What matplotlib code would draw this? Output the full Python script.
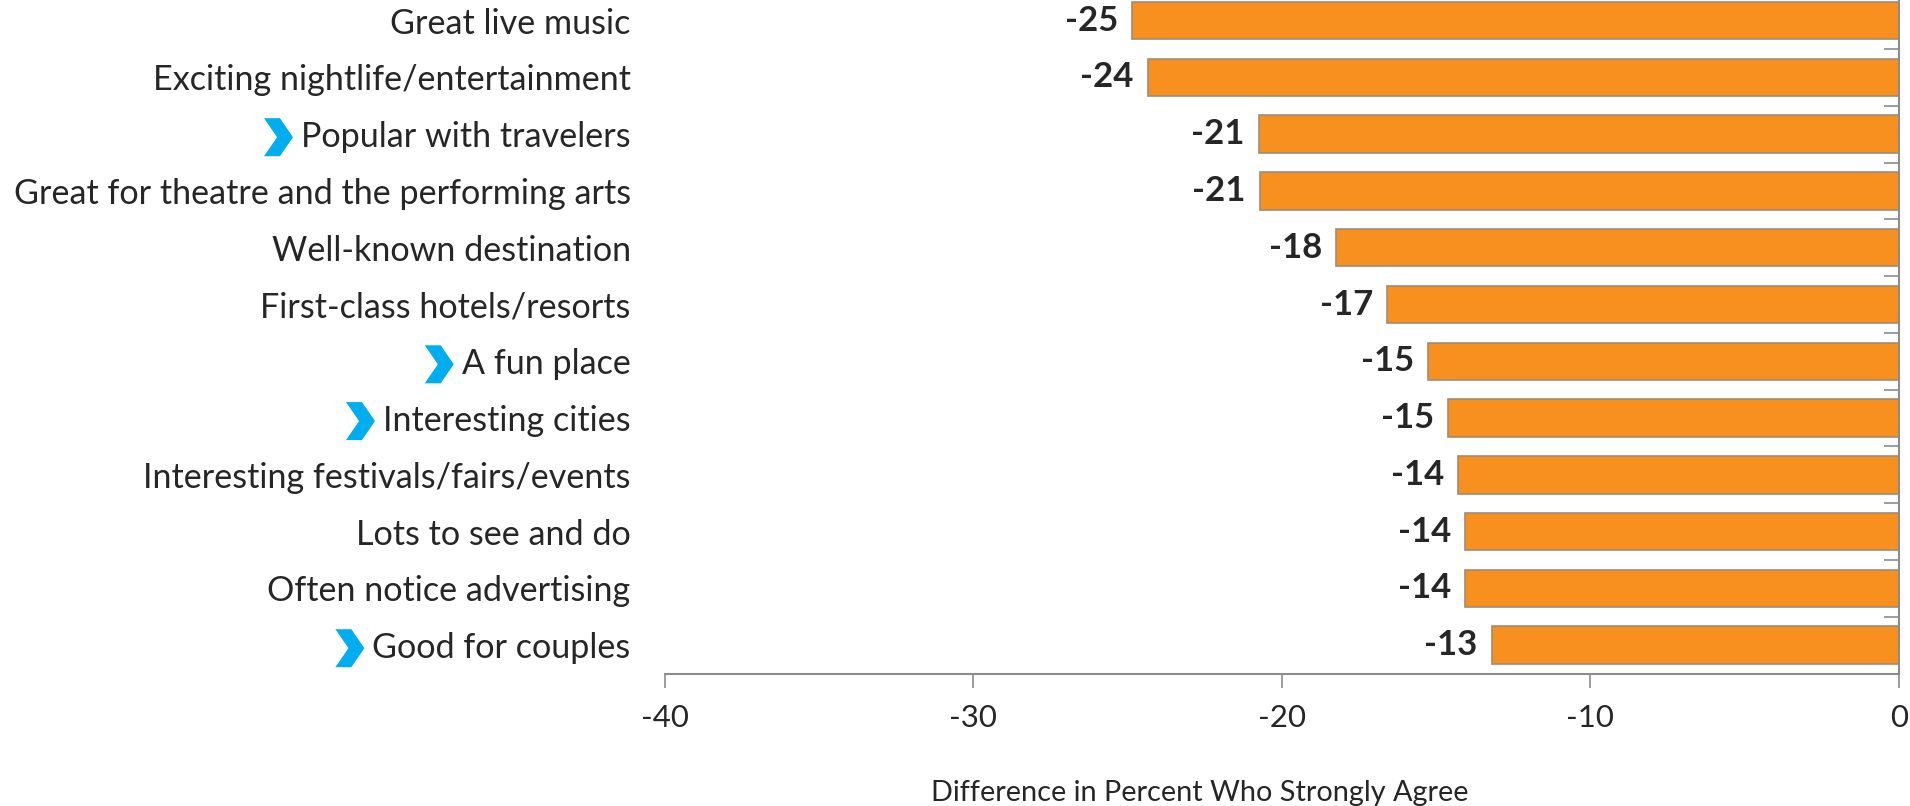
import numpy as np
import matplotlib
matplotlib.use("Agg")
import matplotlib.pyplot as plt
from matplotlib.patches import Polygon

# data
categories = [
    "Great live music",
    "Exciting nightlife/entertainment",
    "Popular with travelers",
    "Great for theatre and the performing arts",
    "Well-known destination",
    "First-class hotels/resorts",
    "A fun place",
    "Interesting cities",
    "Interesting festivals/fairs/events",
    "Lots to see and do",
    "Often notice advertising",
    "Good for couples",
]
values = [-24.85, -24.35, -20.75, -20.72, -18.25, -16.6, -15.25, -14.6, -14.3, -14.05, -14.05, -13.2]
highlight = [False, False, True, False, False, False, True, True, False, False, False, True]
xticks = [-40, -30, -20, -10, 0]
xlabel = "Difference in Percent Who Strongly Agree"

plt.rcParams["font.family"] = ["Lato", "DejaVu Sans"]
TXT = "#262626"
GRAY = "#8C8C8C"

fig = plt.figure(figsize=(19.10, 8.06), dpi=100)
ax = fig.add_axes([0.348, 0.1643, 0.6462, 0.8453])

pos = np.arange(len(categories))
ax.barh(pos, values, height=0.66, color="#F7901E", edgecolor="#A08C78", linewidth=1.2, zorder=2)

for p, v in zip(pos, values):
    ax.annotate(f"{v:.0f}", (v, p), xytext=(-10, 0), textcoords="offset points",
                ha="right", va="center", fontsize=25, fontweight="bold", color=TXT)

ax.set_xlim(-40, 0)
ax.set_ylim(len(categories) - 0.5, -0.5)
ax.set_xticks(xticks)
ax.set_xticklabels([str(t) for t in xticks])
ax.set_yticks(pos)
ax.set_yticklabels(categories)
ax.set_yticks(np.arange(-0.5, len(categories), 1), minor=True)

for s in ["top", "left"]:
    ax.spines[s].set_visible(False)
ax.spines["bottom"].set_color(GRAY)
ax.spines["bottom"].set_linewidth(1.5)
ax.spines["right"].set_color(GRAY)
ax.spines["right"].set_linewidth(1.5)

ax.tick_params(axis="x", direction="out", length=10, width=1.2, color=GRAY,
               labelsize=22.5, labelcolor=TXT, pad=12)
ax.tick_params(axis="y", which="major", left=True, right=False, length=0,
               labelsize=24.6, labelcolor=TXT, pad=24.5)
ax.tick_params(axis="y", which="minor", left=False, right=True, direction="in",
               length=11, width=1.2, color=GRAY)

fig.text(0.628, 0.016, xlabel, ha="center", va="center", fontsize=20.8, color=TXT)

# blue chevrons in front of some labels
fig.canvas.draw()
r = fig.canvas.get_renderer()
W, H = fig.bbox.width, fig.bbox.height
for lab, flag in zip(ax.get_yticklabels(), highlight):
    if not flag:
        continue
    bb = lab.get_window_extent(renderer=r)
    cy = (bb.y0 + bb.y1) / 2
    x1 = bb.x0 - 8
    w, h = 29, 38
    x0 = x1 - w
    pts = [(x0, cy + h / 2), (x0 + 0.55 * w, cy + h / 2), (x1, cy),
           (x0 + 0.55 * w, cy - h / 2), (x0, cy - h / 2), (x0 + 0.45 * w, cy)]
    pts = [(px / W, py / H) for px, py in pts]
    fig.patches.append(Polygon(pts, closed=True, transform=fig.transFigure,
                               facecolor="#00AEEF", edgecolor="none"))

fig.savefig("out.png", dpi=100)
